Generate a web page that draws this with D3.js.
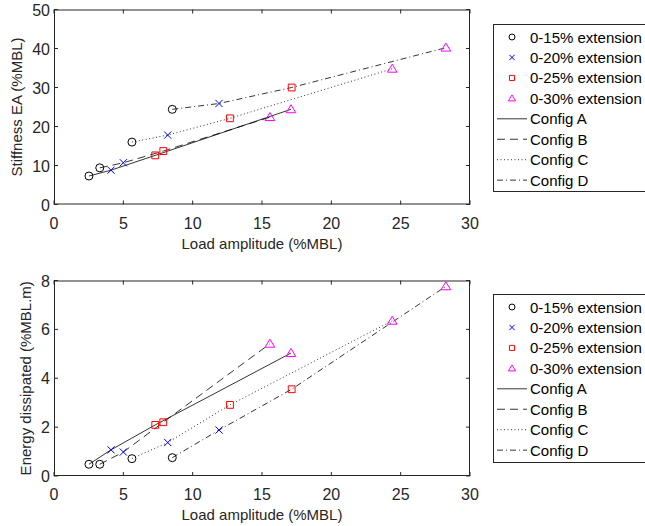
<!DOCTYPE html>
<html>
<head>
<meta charset="UTF-8" />
<script src="https://cdnjs.cloudflare.com/ajax/libs/d3/7.8.5/d3.min.js"></script>
<style>
  body { margin: 0; background: #fff; }
  svg { font-family: "Liberation Sans", Arial, sans-serif; }
  .tick-label { font-size: 16px; fill: #262626; }
  .ax-label { font-size: 15px; fill: #262626; }
  .leg-text { font-size: 15px; fill: #000; }
</style>
</head>
<body>
<svg id="chart" width="645" height="526"></svg>
<script>
// extensions (marker) and configurations (line style)
var extensions = ["0-15% extension", "0-20% extension", "0-25% extension", "0-30% extension"];
var configs = ["Config A", "Config B", "Config C", "Config D"];

// load amplitude (%MBL), one value per extension, for each config
var loadA = [2.52, 4.11, 7.30, 17.09];
var loadB = [3.30, 5.00, 7.88, 15.57];
var loadC = [5.62, 8.20, 12.69, 24.39];
var loadD = [8.53, 11.90, 17.14, 28.26];

// stiffness EA (%MBL)
var stiffA = [7.3, 8.8, 12.6, 24.4];
var stiffB = [9.4, 10.7, 13.7, 22.4];
var stiffC = [16.0, 17.8, 22.1, 34.8];
var stiffD = [24.4, 25.9, 30.0, 40.2];

// energy dissipated (%MBL.m)
var energyA = [0.48, 1.07, 2.09, 5.03];
var energyB = [0.48, 0.98, 2.20, 5.41];
var energyC = [0.71, 1.37, 2.91, 6.35];
var energyD = [0.75, 1.88, 3.55, 7.76];

var xTicks = [0, 5, 10, 15, 20, 25, 30];
var stiffTicks = [0, 10, 20, 30, 40, 50];
var energyTicks = [0, 2, 4, 6, 8];

var markerKinds = ["circle", "x", "square", "triangle"];
var markerColors = ["#000000", "#0000ff", "#ff0000", "#ff00ff"];
var dashes = [null, "8,5", "1,2.5", "6,3,1,3"];

var loads = [loadA, loadB, loadC, loadD];

var svg = d3.select("#chart");
var axisColor = "#262626";

function markerPath(kind, s) {
  var p = d3.path();
  if (kind == "circle") {
    p.arc(0, 0, s, 0, 2 * Math.PI);
  } else if (kind == "square") {
    p.rect(-s * 0.85, -s * 0.85, s * 1.7, s * 1.7);
  } else if (kind == "triangle") {
    p.moveTo(0, -s * 1.15);
    p.lineTo(s * 1.2, s * 0.85);
    p.lineTo(-s * 1.2, s * 0.85);
    p.closePath();
  } else {
    p.moveTo(-s * 0.9, -s * 0.9); p.lineTo(s * 0.9, s * 0.9);
    p.moveTo(s * 0.9, -s * 0.9); p.lineTo(-s * 0.9, s * 0.9);
  }
  return p.toString();
}

function drawPanel(top, bottom, yMax, yTicks, yLabel, values, legendTop, legendBottom, yLabelX) {
  var left = 54, right = 470;
  var x = d3.scaleLinear().domain([0, 30]).range([left, right]);
  var y = d3.scaleLinear().domain([0, yMax]).range([bottom, top]);
  var g = svg.append("g");

  g.append("rect")
    .attr("x", left).attr("y", top)
    .attr("width", right - left).attr("height", bottom - top)
    .attr("fill", "#fff");

  // inward ticks on all four sides
  var tl = 4;
  xTicks.forEach(function (t) {
    g.append("line").attr("x1", x(t)).attr("x2", x(t)).attr("y1", bottom).attr("y2", bottom - tl)
      .attr("stroke", axisColor);
    g.append("line").attr("x1", x(t)).attr("x2", x(t)).attr("y1", top).attr("y2", top + tl)
      .attr("stroke", axisColor);
    g.append("text").attr("class", "tick-label")
      .attr("x", x(t)).attr("y", bottom + 24)
      .attr("text-anchor", "middle").text(t);
  });
  yTicks.forEach(function (t) {
    g.append("line").attr("x1", left).attr("x2", left + tl).attr("y1", y(t)).attr("y2", y(t))
      .attr("stroke", axisColor);
    g.append("line").attr("x1", right).attr("x2", right - tl).attr("y1", y(t)).attr("y2", y(t))
      .attr("stroke", axisColor);
    g.append("text").attr("class", "tick-label")
      .attr("x", left - 4).attr("y", y(t) + 6)
      .attr("text-anchor", "end").text(t);
  });

  g.append("rect")
    .attr("x", left + 0.5).attr("y", top + 0.5)
    .attr("width", right - left - 1).attr("height", bottom - top - 1)
    .attr("fill", "none").attr("stroke", axisColor).attr("stroke-width", 1);

  g.append("text").attr("class", "ax-label")
    .attr("x", (left + right) / 2).attr("y", bottom + 44)
    .attr("text-anchor", "middle").text("Load amplitude (%MBL)");

  g.append("text").attr("class", "ax-label")
    .attr("transform", "translate(" + yLabelX + "," + (top + bottom) / 2 + ") rotate(-90)")
    .attr("text-anchor", "middle").text(yLabel);

  var line = d3.line().x(function (d) { return x(d[0]); }).y(function (d) { return y(d[1]); });

  // config lines
  configs.forEach(function (c, i) {
    var pts = loads[i].map(function (v, j) { return [v, values[i][j]]; });
    g.append("path").datum(pts)
      .attr("d", line)
      .attr("fill", "none")
      .attr("stroke", "#000")
      .attr("stroke-width", 0.8)
      .attr("stroke-dasharray", dashes[i]);
  });

  // markers
  configs.forEach(function (c, i) {
    loads[i].forEach(function (v, j) {
      g.append("path")
        .attr("d", markerPath(markerKinds[j], 4))
        .attr("transform", "translate(" + x(v) + "," + y(values[i][j]) + ")")
        .attr("fill", "none")
        .attr("stroke", markerColors[j])
        .attr("stroke-width", 1);
    });
  });

  // legend
  var lg = svg.append("g");
  lg.append("rect")
    .attr("x", 493.5).attr("y", legendTop + 0.5)
    .attr("width", 170).attr("height", legendBottom - legendTop)
    .attr("fill", "#fff").attr("stroke", axisColor).attr("stroke-width", 1);

  var rowY = function (k) { return legendTop + 13 + 20.45 * k; };

  extensions.forEach(function (e, j) {
    lg.append("path")
      .attr("d", markerPath(markerKinds[j], 3))
      .attr("transform", "translate(" + 512 + "," + rowY(j) + ")")
      .attr("fill", "none")
      .attr("stroke", markerColors[j])
      .attr("stroke-width", 1);
    lg.append("text").attr("class", "leg-text")
      .attr("x", 530).attr("y", rowY(j) + 5.5).text(e);
  });
  configs.forEach(function (c, i) {
    lg.append("line")
      .attr("x1", 497).attr("x2", 527)
      .attr("y1", rowY(i + 4)).attr("y2", rowY(i + 4))
      .attr("stroke", "#000").attr("stroke-width", 0.8)
      .attr("stroke-dasharray", dashes[i]);
    lg.append("text").attr("class", "leg-text")
      .attr("x", 530).attr("y", rowY(i + 4) + 5.5).text(c);
  });
}

drawPanel(9.5, 204.5, 50, stiffTicks, "Stiffness EA (%MBL)",
  [stiffA, stiffB, stiffC, stiffD], 24, 191, 22);
drawPanel(280.5, 476, 8, energyTicks, "Energy dissipated (%MBL.m)",
  [energyA, energyB, energyC, energyD], 294, 462, 31);
</script>
</body>
</html>
